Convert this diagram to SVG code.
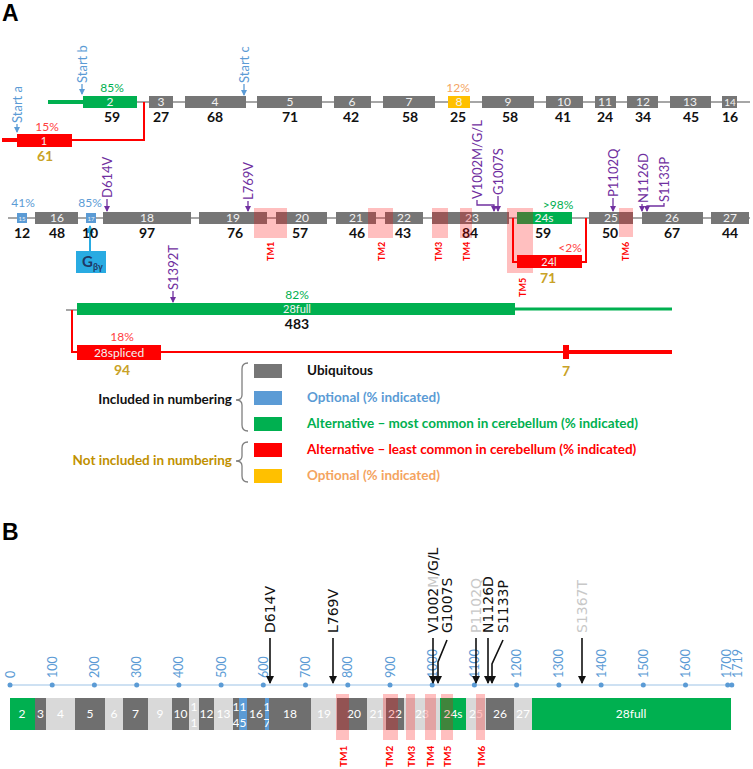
<svg xmlns="http://www.w3.org/2000/svg" width="753" height="769" viewBox="0 0 753 769">
<style>
text{font-family:Lato,"Liberation Sans",sans-serif}
.bb{stroke:#a6a6a6;stroke-width:2;fill:none}
.g{fill:#767676}
.in{fill:#f2f2f2;font-size:12px;text-anchor:middle}
.in11{fill:#f2f2f2;font-size:11px;text-anchor:middle}
.in6{fill:#f2f2f2;font-size:6px;text-anchor:middle}
.in10{fill:#f2f2f2;font-size:10px;text-anchor:middle}
.n{font-weight:bold;font-size:14px;text-anchor:middle;fill:#111}
.gold{font-weight:bold;font-size:14px;text-anchor:middle;fill:#c9a227}
.mut{font-size:13px;fill:#7030a0}
.ma{stroke:#7030a0;stroke-width:1.3;fill:none}
.tm{fill:#ff0000;fill-opacity:0.25}
.tml{font-size:9px;font-weight:bold;fill:#ff0000}
.tmlb{font-size:10px;font-weight:bold;fill:#ff0000}
.st{font-size:13px;fill:#5b9bd5}
.sa{stroke:#5b9bd5;stroke-width:1.3;fill:none}
.pct{font-size:12px;text-anchor:middle}
.lg{font-size:13.5px;font-weight:bold}
.br{stroke:#7f7f7f;stroke-width:1.3;fill:none}
.bl{fill:#d9d9d9}
.bd{fill:#6f6f6f}
.bin{fill:#fff;font-size:12px;text-anchor:middle}
.tick{font-size:12.5px;fill:#5b9bd5}
.bm{font-family:"DejaVu Sans",sans-serif;font-size:14px;fill:#111}
.bmg{font-family:"DejaVu Sans",sans-serif;font-size:14px;fill:#c8c8c8}
.bma{stroke:#111;stroke-width:1.6;fill:none}
.hdr{font-family:"Liberation Sans",Arial,sans-serif;font-weight:bold;font-size:23px;fill:#000}
</style>
<defs>
<marker id="ap" markerUnits="userSpaceOnUse" markerWidth="6" markerHeight="6" refX="5" refY="3" orient="auto"><path d="M0,0 L6,3 L0,6 z" fill="#7030a0"/></marker>
<marker id="ab" markerUnits="userSpaceOnUse" markerWidth="6" markerHeight="6" refX="5" refY="3" orient="auto"><path d="M0,0 L6,3 L0,6 z" fill="#5b9bd5"/></marker>
<marker id="ac" markerUnits="userSpaceOnUse" markerWidth="8" markerHeight="8" refX="7" refY="4" orient="auto"><path d="M0,0 L8,4 L0,8 z" fill="#29abe2"/></marker>
<marker id="ak" markerUnits="userSpaceOnUse" markerWidth="8" markerHeight="8" refX="7" refY="4" orient="auto"><path d="M0,0 L8,4 L0,8 z" fill="#111"/></marker>
</defs>

<text class="hdr" x="2" y="21">A</text>
<text class="hdr" x="2" y="540">B</text>

<!-- connectors / backbones panel A -->
<g id="connectors">
  <line class="bb" x1="137" y1="102" x2="750" y2="102"/>
  <line x1="48" y1="102" x2="83" y2="102" stroke="#00b050" stroke-width="4"/>
  <line x1="2" y1="140" x2="17" y2="140" stroke="#ff0000" stroke-width="4"/>
  <polyline points="72,140 144,140 144,102" stroke="#ff0000" stroke-width="2" fill="none"/>
  <line class="bb" x1="8" y1="218" x2="750" y2="218"/>
  <polyline points="513,218 513,262 517,262" stroke="#ff0000" stroke-width="2" fill="none"/>
  <polyline points="582,262 586,262 586,218" stroke="#ff0000" stroke-width="2" fill="none"/>
  <line class="bb" x1="66" y1="310" x2="77" y2="310"/>
  <polyline points="72,310 72,352 77,352" stroke="#ff0000" stroke-width="2" fill="none"/>
  <line x1="515" y1="309" x2="672" y2="309" stroke="#00b050" stroke-width="3"/>
  <line x1="161" y1="352" x2="566" y2="352" stroke="#ff0000" stroke-width="2"/>
  <line x1="566" y1="352" x2="672" y2="352" stroke="#ff0000" stroke-width="4"/>
  <!-- start arrows -->
  <line class="sa" x1="17" y1="124" x2="17" y2="132" marker-end="url(#ab)"/>
  <line class="sa" x1="82" y1="84" x2="82" y2="94" marker-end="url(#ab)"/>
  <line class="sa" x1="244" y1="84" x2="244" y2="95" marker-end="url(#ab)"/>
  <!-- mutation arrows A -->
  <line class="ma" x1="107" y1="199" x2="107" y2="211" marker-end="url(#ap)"/>
  <line class="ma" x1="248" y1="201" x2="248" y2="211" marker-end="url(#ap)"/>
  <polyline class="ma" points="477,200 477,205 494,205 494,211" marker-end="url(#ap)"/>
  <line class="ma" x1="498" y1="196" x2="498" y2="211" marker-end="url(#ap)"/>
  <line class="ma" x1="613" y1="198" x2="613" y2="211" marker-end="url(#ap)"/>
  <line class="ma" x1="642" y1="204" x2="642" y2="211" marker-end="url(#ap)"/>
  <polyline class="ma" points="664,203 664,206 647,206 647,211" marker-end="url(#ap)"/>
  <line class="ma" x1="173" y1="291" x2="173" y2="302" marker-end="url(#ap)"/>
  <line x1="90" y1="251" x2="90" y2="226" stroke="#29abe2" stroke-width="2" marker-end="url(#ac)"/>
</g>

<!-- start labels -->
<g id="starts">
  <text class="st" transform="translate(21.5,123) rotate(-90)">Start a</text>
  <text class="st" transform="translate(86.5,83) rotate(-90)">Start b</text>
  <text class="st" transform="translate(248.5,83) rotate(-90)">Start c</text>
</g>

<!-- Row 1 exons -->
<g id="exon1"><rect x="17" y="134" width="55" height="13" fill="#ff0000"/><text class="in11" x="44" y="144.5">1</text><text class="pct" x="47" y="131" fill="#ff4040">15%</text><text class="gold" x="45" y="161">61</text></g>
<g id="exon2"><rect x="83" y="96" width="54" height="12" fill="#00b050"/><text class="in" x="110" y="106">2</text><text class="pct" x="112" y="92" fill="#00b050">85%</text><text class="n" x="112" y="122">59</text></g>
<g id="exon3"><rect class="g" x="149" y="96" width="24" height="12"/><text class="in" x="161" y="106">3</text><text class="n" x="161" y="122">27</text></g>
<g id="exon4"><rect class="g" x="185" y="96" width="61" height="12"/><text class="in" x="215" y="106">4</text><text class="n" x="215" y="122">68</text></g>
<g id="exon5"><rect class="g" x="257" y="96" width="65" height="12"/><text class="in" x="290" y="106">5</text><text class="n" x="290" y="122">71</text></g>
<g id="exon6"><rect class="g" x="334" y="96" width="37" height="12"/><text class="in" x="352" y="106">6</text><text class="n" x="351" y="122">42</text></g>
<g id="exon7"><rect class="g" x="383" y="96" width="52" height="12"/><text class="in" x="409" y="106">7</text><text class="n" x="410" y="122">58</text></g>
<g id="exon8"><rect x="448" y="96" width="22" height="12" fill="#ffc000"/><text class="in" x="459" y="106">8</text><text class="pct" x="458" y="92" fill="#f4a460">12%</text><text class="n" x="458" y="122">25</text></g>
<g id="exon9"><rect class="g" x="482" y="96" width="52" height="12"/><text class="in" x="508" y="106">9</text><text class="n" x="510" y="122">58</text></g>
<g id="exon10"><rect class="g" x="546" y="96" width="37" height="12"/><text class="in" x="564" y="106">10</text><text class="n" x="563" y="122">41</text></g>
<g id="exon11"><rect class="g" x="595" y="96" width="21" height="12"/><text class="in" x="605" y="106">11</text><text class="n" x="605" y="122">24</text></g>
<g id="exon12"><rect class="g" x="627" y="96" width="31" height="12"/><text class="in" x="643" y="106">12</text><text class="n" x="643" y="122">34</text></g>
<g id="exon13"><rect class="g" x="670" y="96" width="41" height="12"/><text class="in" x="690" y="106">13</text><text class="n" x="691" y="122">45</text></g>
<g id="exon14"><rect class="g" x="722" y="96" width="15" height="12"/><text class="in10" x="730" y="106">14</text><text class="n" x="730" y="122">16</text></g>

<!-- Row 2 exons -->
<g id="exon15"><rect x="17" y="213" width="10" height="10" fill="#5b9bd5"/><text class="in6" x="22" y="220.5">15</text><text class="pct" x="23" y="207" fill="#5b9bd5">41%</text><text class="n" x="22" y="238">12</text></g>
<g id="exon16"><rect class="g" x="35" y="212" width="43" height="12"/><text class="in" x="57" y="222">16</text><text class="n" x="57" y="238">48</text></g>
<g id="exon17"><rect x="86" y="213" width="10" height="10" fill="#5b9bd5"/><text class="in6" x="91" y="220.5">17</text><text class="pct" x="90" y="207" fill="#5b9bd5">85%</text><text class="n" x="90" y="238">10</text></g>
<g id="exon18"><rect class="g" x="103" y="212" width="88" height="12"/><text class="in" x="147" y="222">18</text><text class="n" x="147" y="238">97</text></g>
<g id="exon19"><rect class="g" x="199" y="212" width="68" height="12"/><text class="in" x="233" y="222">19</text><text class="n" x="235" y="238">76</text></g>
<g id="exon20"><rect class="g" x="276" y="212" width="51" height="12"/><text class="in" x="302" y="222">20</text><text class="n" x="300" y="238">57</text></g>
<g id="exon21"><rect class="g" x="336" y="212" width="40" height="12"/><text class="in" x="356" y="222">21</text><text class="n" x="357" y="238">46</text></g>
<g id="exon22"><rect class="g" x="385" y="212" width="38" height="12"/><text class="in" x="404" y="222">22</text><text class="n" x="403" y="238">43</text></g>
<g id="exon23"><rect class="g" x="432" y="212" width="77" height="12"/><text class="in" x="472" y="222">23</text><text class="n" x="470" y="238">84</text></g>
<g id="exon24s"><rect x="517" y="212" width="55" height="12" fill="#00b050"/><text class="in" x="544" y="222">24s</text><text class="pct" x="558" y="209" fill="#00b050">&gt;98%</text><text class="n" x="543" y="238">59</text></g>
<g id="exon24l"><rect x="517" y="255" width="65" height="13" fill="#ff0000"/><text class="in11" x="549" y="265.5">24l</text><text class="pct" x="570" y="252" fill="#ff4040">&lt;2%</text><text class="gold" x="548" y="283">71</text></g>
<g id="exon25"><rect class="g" x="589" y="212" width="44" height="12"/><text class="in" x="611" y="222">25</text><text class="n" x="610" y="238">50</text></g>
<g id="exon26"><rect class="g" x="642" y="212" width="61" height="12"/><text class="in" x="672" y="222">26</text><text class="n" x="672" y="238">67</text></g>
<g id="exon27"><rect class="g" x="711" y="212" width="38" height="12"/><text class="in" x="730" y="222">27</text><text class="n" x="730" y="238">44</text></g>

<g id="gbg"><rect x="76" y="251" width="30" height="22" fill="#29abe2"/><text x="82" y="267" font-size="15" font-weight="bold" fill="#1f3864">G<tspan font-size="9" dy="3">βγ</tspan></text></g>

<!-- TM overlays A -->
<g id="tmA">
  <rect class="tm" x="254" y="208" width="33" height="30"/>
  <rect class="tm" x="368" y="208" width="25" height="30"/>
  <rect class="tm" x="432" y="208" width="16" height="30"/>
  <rect class="tm" x="460" y="208" width="12" height="30"/>
  <rect class="tm" x="507" y="208" width="26" height="65"/>
  <rect class="tm" x="619" y="208" width="14" height="29"/>
  <text class="tml" transform="translate(274,261) rotate(-90)">TM1</text>
  <text class="tml" transform="translate(385,261) rotate(-90)">TM2</text>
  <text class="tml" transform="translate(442,261) rotate(-90)">TM3</text>
  <text class="tml" transform="translate(470,261) rotate(-90)">TM4</text>
  <text class="tml" transform="translate(526,297) rotate(-90)">TM5</text>
  <text class="tml" transform="translate(629,261) rotate(-90)">TM6</text>
</g>

<!-- mutation labels A -->
<g id="mutA">
  <text class="mut" transform="translate(111.5,198) rotate(-90)">D614V</text>
  <text class="mut" transform="translate(252.5,200) rotate(-90)">L769V</text>
  <text class="mut" transform="translate(481.5,199) rotate(-90)">V1002M/G/L</text>
  <text class="mut" transform="translate(502.5,195) rotate(-90)">G1007S</text>
  <text class="mut" transform="translate(617.5,197) rotate(-90)">P1102Q</text>
  <text class="mut" transform="translate(647.5,203) rotate(-90)">N1126D</text>
  <text class="mut" transform="translate(668.5,202) rotate(-90)">S1133P</text>
  <text class="mut" transform="translate(177.5,290) rotate(-90)">S1392T</text>
</g>

<!-- Row 3 -->
<g id="exon28full"><rect x="77" y="303" width="438" height="12" fill="#00b050"/><text class="in11" x="297" y="312.5">28full</text><text class="pct" x="297" y="299" fill="#00b050">82%</text><text class="n" x="297" y="329">483</text></g>
<g id="exon28spliced"><rect x="77" y="345" width="84" height="15" fill="#ff0000"/><text class="in" x="119" y="357">28spliced</text><text class="pct" x="122" y="341" fill="#ff4040">18%</text><text class="gold" x="122" y="375">94</text></g>
<g id="exon7b"><rect x="563" y="345" width="6" height="14" fill="#ff0000"/><text class="gold" x="566" y="376">7</text></g>

<!-- legend -->
<g id="legend">
  <rect x="254" y="364" width="28" height="14" fill="#767676"/>
  <rect x="254" y="391" width="28" height="14" fill="#5b9bd5"/>
  <rect x="254" y="417" width="28" height="14" fill="#00b050"/>
  <rect x="254" y="443" width="28" height="14" fill="#ff0000"/>
  <rect x="254" y="469" width="28" height="14" fill="#ffc000"/>
  <text class="lg" x="307" y="375" fill="#111">Ubiquitous</text>
  <text class="lg" x="307" y="402" fill="#5b9bd5">Optional (% indicated)</text>
  <text class="lg" x="307" y="428" fill="#00b050">Alternative – most common in cerebellum (% indicated)</text>
  <text class="lg" x="307" y="454" fill="#ff0000">Alternative – least common in cerebellum (% indicated)</text>
  <text class="lg" x="307" y="480" fill="#f4a460">Optional (% indicated)</text>
  <text class="lg" x="232" y="404" text-anchor="end" fill="#111">Included in numbering</text>
  <text class="lg" x="232" y="465" text-anchor="end" fill="#bf9000">Not included in numbering</text>
  <path class="br" d="M248,363 Q242,363 242,369 L242,395 Q242,400 236,400 Q242,400 242,405 L242,425 Q242,431 248,431"/>
  <path class="br" d="M248,442 Q242,442 242,448 L242,456 Q242,461 236,461 Q242,461 242,466 L242,476 Q242,482 248,482"/>
</g>

<!-- Panel B axis -->
<g id="axis">
  <line x1="10" y1="685" x2="731" y2="685" stroke="#9dc3e6" stroke-width="1"/>
  <g fill="#5b9bd5">
    <circle cx="10" cy="685" r="2.5"/><circle cx="52.2" cy="685" r="2.5"/><circle cx="94.4" cy="685" r="2.5"/><circle cx="136.7" cy="685" r="2.5"/><circle cx="178.9" cy="685" r="2.5"/><circle cx="221.1" cy="685" r="2.5"/><circle cx="263.3" cy="685" r="2.5"/><circle cx="305.5" cy="685" r="2.5"/><circle cx="347.8" cy="685" r="2.5"/><circle cx="390" cy="685" r="2.5"/><circle cx="432.2" cy="685" r="2.5"/><circle cx="474.4" cy="685" r="2.5"/><circle cx="516.6" cy="685" r="2.5"/><circle cx="558.9" cy="685" r="2.5"/><circle cx="601.1" cy="685" r="2.5"/><circle cx="643.3" cy="685" r="2.5"/><circle cx="685.5" cy="685" r="2.5"/><circle cx="727.7" cy="685" r="2.5"/><circle cx="731.8" cy="685" r="2.5"/>
  </g>
  <text class="tick" transform="translate(14.5,678) rotate(-90)">0</text>
  <text class="tick" transform="translate(56.7,678) rotate(-90)">100</text>
  <text class="tick" transform="translate(98.9,678) rotate(-90)">200</text>
  <text class="tick" transform="translate(141.2,678) rotate(-90)">300</text>
  <text class="tick" transform="translate(183.4,678) rotate(-90)">400</text>
  <text class="tick" transform="translate(225.6,678) rotate(-90)">500</text>
  <text class="tick" transform="translate(267.8,678) rotate(-90)">600</text>
  <text class="tick" transform="translate(310,678) rotate(-90)">700</text>
  <text class="tick" transform="translate(352.3,678) rotate(-90)">800</text>
  <text class="tick" transform="translate(394.5,678) rotate(-90)">900</text>
  <text class="tick" transform="translate(436.7,678) rotate(-90)">1000</text>
  <text class="tick" transform="translate(478.9,678) rotate(-90)">1100</text>
  <text class="tick" transform="translate(521.1,678) rotate(-90)">1200</text>
  <text class="tick" transform="translate(563.4,678) rotate(-90)">1300</text>
  <text class="tick" transform="translate(605.6,678) rotate(-90)">1400</text>
  <text class="tick" transform="translate(647.8,678) rotate(-90)">1500</text>
  <text class="tick" transform="translate(690,678) rotate(-90)">1600</text>
  <text class="tick" transform="translate(731,678) rotate(-90)">1700</text>
  <text class="tick" transform="translate(741.5,678) rotate(-90)">1719</text>
</g>

<!-- Panel B bar -->
<g id="barB">
  <rect x="10" y="698" width="25" height="32" fill="#00b050"/><text class="bin" x="22" y="718">2</text>
  <rect class="bd" x="35" y="698" width="11" height="32"/><text class="bin" x="40.5" y="718">3</text>
  <rect class="bl" x="46" y="698" width="29" height="32"/><text class="bin" x="60.5" y="718">4</text>
  <rect class="bd" x="75" y="698" width="30" height="32"/><text class="bin" x="90" y="718">5</text>
  <rect class="bl" x="105" y="698" width="18" height="32"/><text class="bin" x="114" y="718">6</text>
  <rect class="bd" x="123" y="698" width="25" height="32"/><text class="bin" x="135.5" y="718">7</text>
  <rect class="bl" x="148" y="698" width="24" height="32"/><text class="bin" x="160" y="718">9</text>
  <rect class="bd" x="172" y="698" width="17" height="32"/><text class="bin" x="180.5" y="718">10</text>
  <rect class="bl" x="189" y="698" width="10" height="32"/><text class="bin" x="194" y="711">1</text><text class="bin" x="194" y="727">1</text>
  <rect class="bd" x="199" y="698" width="15" height="32"/><text class="bin" x="206.5" y="718">12</text>
  <rect class="bl" x="214" y="698" width="19" height="32"/><text class="bin" x="223.5" y="718">13</text>
  <rect class="bd" x="233" y="698" width="6" height="32"/><text class="bin" x="236" y="711">1</text><text class="bin" x="236" y="727">4</text>
  <rect x="239" y="698" width="8" height="32" fill="#5b9bd5"/><text class="bin" x="243" y="711">1</text><text class="bin" x="243" y="727">5</text>
  <rect class="bd" x="247" y="698" width="18" height="32"/><text class="bin" x="256" y="718">16</text>
  <rect x="265" y="698" width="4" height="32" fill="#5b9bd5"/><text class="bin" x="267" y="711">1</text><text class="bin" x="267" y="727">7</text>
  <rect class="bd" x="269" y="698" width="42" height="32"/><text class="bin" x="290" y="718">18</text>
  <rect class="bl" x="311" y="698" width="26" height="32"/><text class="bin" x="324" y="718">19</text>
  <rect class="bd" x="337" y="698" width="30" height="32"/><text class="bin" x="354" y="718">20</text>
  <rect class="bl" x="367" y="698" width="19" height="32"/><text class="bin" x="376.5" y="718">21</text>
  <rect class="bd" x="386" y="698" width="18" height="32"/><text class="bin" x="395" y="718">22</text>
  <rect class="bl" x="404" y="698" width="36" height="32"/><text class="bin" x="422" y="718">23</text>
  <rect x="440" y="698" width="26" height="32" fill="#00b050"/><text class="bin" x="453" y="718">24s</text>
  <rect class="bl" x="466" y="698" width="20" height="32"/><text class="bin" x="476" y="718">25</text>
  <rect class="bd" x="486" y="698" width="28" height="32"/><text class="bin" x="500" y="718">26</text>
  <rect class="bl" x="514" y="698" width="18" height="32"/><text class="bin" x="523" y="718">27</text>
  <rect x="532" y="698" width="199" height="32" fill="#00b050"/><text class="bin" x="631" y="718">28full</text>
</g>

<g id="tmB">
  <rect class="tm" x="336" y="694" width="13" height="46"/>
  <rect class="tm" x="383" y="694" width="15" height="46"/>
  <rect class="tm" x="406" y="694" width="9" height="46"/>
  <rect class="tm" x="425" y="694" width="11" height="46"/>
  <rect class="tm" x="441" y="694" width="12" height="46"/>
  <rect class="tm" x="476" y="694" width="9" height="46"/>
  <text class="tmlb" transform="translate(346.5,767) rotate(-90)">TM1</text>
  <text class="tmlb" transform="translate(392.5,767) rotate(-90)">TM2</text>
  <text class="tmlb" transform="translate(414.5,767) rotate(-90)">TM3</text>
  <text class="tmlb" transform="translate(433.5,767) rotate(-90)">TM4</text>
  <text class="tmlb" transform="translate(450.5,767) rotate(-90)">TM5</text>
  <text class="tmlb" transform="translate(484.5,767) rotate(-90)">TM6</text>
</g>

<!-- mutation arrows B -->
<g id="mutB">
  <line class="bma" x1="270" y1="638" x2="270" y2="683" marker-end="url(#ak)"/>
  <line class="bma" x1="333" y1="638" x2="333" y2="683" marker-end="url(#ak)"/>
  <line class="bma" x1="433" y1="638" x2="433" y2="683" marker-end="url(#ak)"/>
  <polyline class="bma" points="447,640 438,662 438,683" marker-end="url(#ak)"/>
  <line class="bma" x1="476" y1="638" x2="476" y2="683" marker-end="url(#ak)"/>
  <line class="bma" x1="488" y1="638" x2="488" y2="683" marker-end="url(#ak)"/>
  <polyline class="bma" points="503,640 492,664 492,683" marker-end="url(#ak)"/>
  <line class="bma" x1="582" y1="638" x2="582" y2="683" marker-end="url(#ak)"/>
  <text class="bm" transform="translate(275,633) rotate(-90)">D614V</text>
  <text class="bm" transform="translate(338,633) rotate(-90)">L769V</text>
  <text class="bm" transform="translate(438,633) rotate(-90)">V1002<tspan style="fill:#c8c8c8">M</tspan>/G/L</text>
  <text class="bm" transform="translate(452,633) rotate(-90)">G1007S</text>
  <text class="bmg" transform="translate(481,633) rotate(-90)">P1102Q</text>
  <text class="bm" transform="translate(493,633) rotate(-90)">N1126D</text>
  <text class="bm" transform="translate(508,633) rotate(-90)">S1133P</text>
  <text class="bmg" transform="translate(587,633) rotate(-90)">S1367T</text>
</g>
</svg>
